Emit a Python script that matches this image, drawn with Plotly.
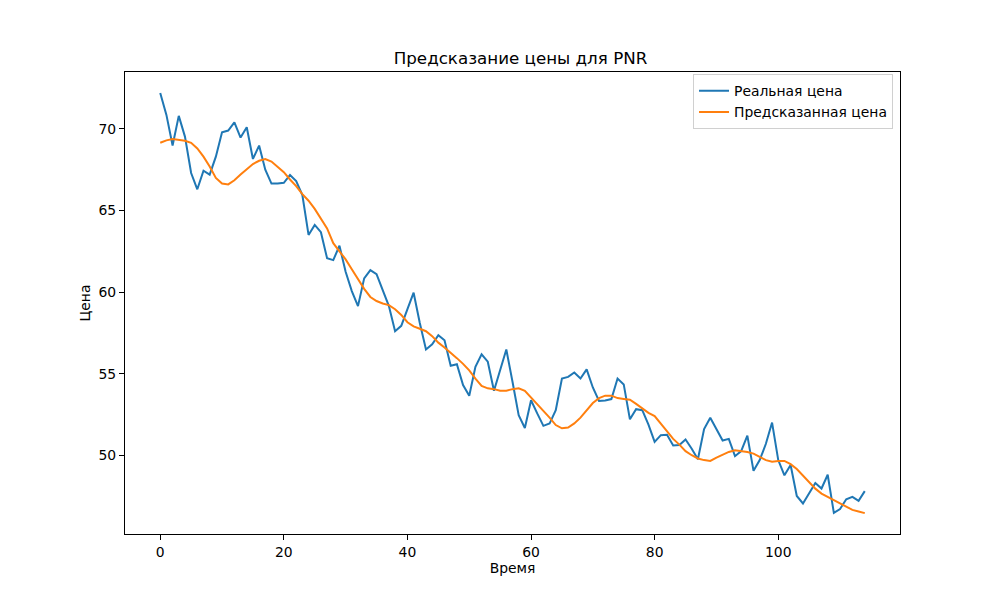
import plotly.graph_objects as go

real_price = [
    72.2, 70.86, 68.98, 70.8, 69.53, 67.3, 66.3, 67.44, 67.2, 68.3,
    69.8, 69.9, 70.4, 69.47, 70.1, 68.16, 68.98, 67.5, 66.65, 66.65,
    66.7, 67.18, 66.8, 65.95, 63.5, 64.12, 63.67, 62.07, 61.96, 62.84,
    61.25, 60.06, 59.14, 60.84, 61.35, 61.1, 60.12, 59.14, 57.6, 57.93,
    58.96, 59.96, 58.1, 56.48, 56.8, 57.36, 57.05, 55.48, 55.58, 54.3,
    53.64, 55.42, 56.18, 55.73, 53.95, 55.25, 56.48, 54.5, 52.45, 51.67,
    53.37, 52.56, 51.8, 51.94, 52.76, 54.7, 54.8, 55.07, 54.7, 55.26,
    54.15, 53.33, 53.36, 53.44, 54.7, 54.34, 52.2, 52.82, 52.76, 51.88,
    50.82, 51.23, 51.25, 50.6, 50.62, 50.96, 50.4, 49.75, 51.6, 52.3,
    51.58, 50.9, 51.0, 49.94, 50.25, 51.2, 49.04, 49.7, 50.7, 52.0,
    49.7, 48.77, 49.4, 47.5, 47.04, 47.7, 48.3, 47.96, 48.8, 46.46,
    46.7, 47.3, 47.45, 47.2, 47.8,
]

predicted_price = [
    69.15, 69.3, 69.38, 69.35, 69.28, 69.15, 68.8, 68.3, 67.7, 67.0,
    66.65, 66.6, 66.85, 67.2, 67.55, 67.85, 68.05, 68.15, 68.0, 67.7,
    67.35, 66.9, 66.5, 66.0, 65.6, 65.1, 64.5, 63.9, 63.0, 62.5,
    62.0, 61.4, 60.8, 60.2, 59.7, 59.45, 59.3, 59.2, 58.95, 58.6,
    58.15, 57.9, 57.75, 57.6, 57.3, 56.9, 56.6, 56.3, 55.95, 55.6,
    55.2, 54.7, 54.25, 54.1, 54.05, 53.95, 53.95, 54.05, 54.1, 53.95,
    53.55, 53.1, 52.7, 52.3, 51.85, 51.65, 51.7, 51.95, 52.3, 52.75,
    53.2, 53.5, 53.65, 53.65, 53.5, 53.45, 53.4, 53.15, 52.85, 52.6,
    52.4, 51.95, 51.5, 51.0, 50.65, 50.25, 50.0, 49.8, 49.7, 49.65,
    49.85, 50.05, 50.2, 50.3, 50.25, 50.2, 50.1, 49.9, 49.7, 49.6,
    49.65, 49.65, 49.45, 49.15, 48.75, 48.35, 47.95, 47.65, 47.45, 47.3,
    47.1, 46.85, 46.65, 46.55, 46.45,
]

time = list(range(len(real_price)))

fig = go.Figure()
fig.add_trace(go.Scatter(x=time, y=real_price, mode="lines", name="Реальная цена",
                         line=dict(color="#1f77b4", width=2)))
fig.add_trace(go.Scatter(x=time, y=predicted_price, mode="lines", name="Предсказанная цена",
                         line=dict(color="#ff7f0e", width=2)))

axis_style = dict(showline=True, linecolor="black", linewidth=1, mirror=True,
                  ticks="outside", ticklen=5, tickcolor="black", showgrid=False,
                  zeroline=False, tickfont=dict(size=13.9, color="black"))

# the page adds an 8px body margin, so the margins are pulled back by 8px
fig.update_layout(
    width=1000, height=600,
    margin=dict(l=117, r=108, t=64, b=74),
    paper_bgcolor="white", plot_bgcolor="white",
    font=dict(family="DejaVu Sans", size=13.9, color="black"),
    title=dict(text="Предсказание цены для PNR", x=0.5125, xanchor="center",
               y=0.916, yanchor="middle", font=dict(size=16.7)),
    xaxis=dict(title=dict(text="Время", standoff=3, font=dict(size=13.9)),
               range=[-5.7, 119.7], tickvals=[0, 20, 40, 60, 80, 100], **axis_style),
    yaxis=dict(title=dict(text="Цена", standoff=4, font=dict(size=13.9)),
               range=[45.17, 73.49], tickvals=[50, 55, 60, 65, 70], **axis_style),
    legend=dict(x=0.991, y=0.995, xanchor="right", yanchor="top",
                bordercolor="#d0d0d0", borderwidth=1, bgcolor="white",
                itemwidth=30, font=dict(size=13.9)),
    showlegend=True,
)

fig.write_html("out.html")
